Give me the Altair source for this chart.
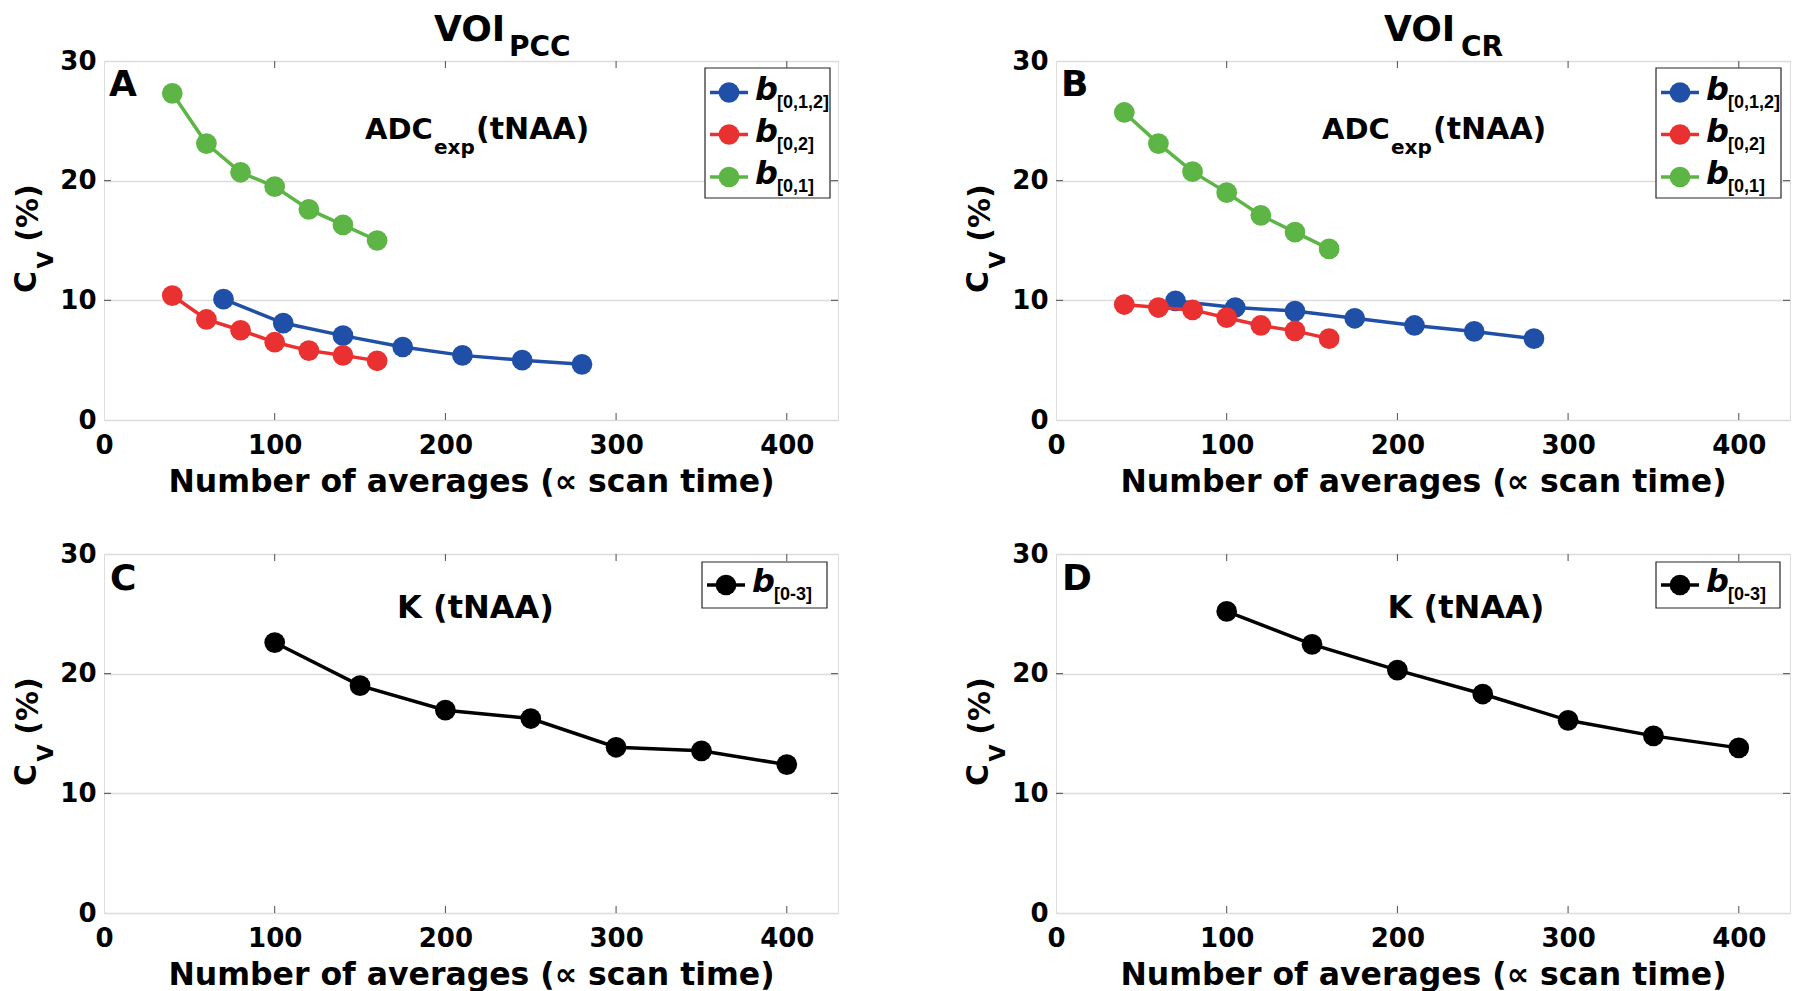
import altair as alt
import pandas as pd

FONT = "DejaVu Sans"
SUBFONT = "Liberation Sans, DejaVu Sans"

# ---------------- data ----------------
# Panel A : VOI_PCC, ADC_exp(tNAA)
a_b012_x = [70, 105, 140, 175, 210, 245, 280]
a_b012_y = [10.1, 8.1, 7.05, 6.1, 5.4, 5.0, 4.65]
a_b02_x = [40, 60, 80, 100, 120, 140, 160]
a_b02_y = [10.4, 8.4, 7.5, 6.5, 5.8, 5.4, 4.95]
a_b01_x = [40, 60, 80, 100, 120, 140, 160]
a_b01_y = [27.3, 23.1, 20.7, 19.5, 17.6, 16.3, 15.0]

# Panel B : VOI_CR, ADC_exp(tNAA)
b_b012_x = [70, 105, 140, 175, 210, 245, 280]
b_b012_y = [9.95, 9.4, 9.1, 8.5, 7.9, 7.4, 6.8]
b_b02_x = [40, 60, 80, 100, 120, 140, 160]
b_b02_y = [9.65, 9.4, 9.2, 8.55, 7.9, 7.45, 6.8]
b_b01_x = [40, 60, 80, 100, 120, 140, 160]
b_b01_y = [25.7, 23.1, 20.75, 19.0, 17.1, 15.7, 14.3]

# Panels C, D : K(tNAA)
c_x = [100, 150, 200, 250, 300, 350, 400]
c_y = [22.6, 19.0, 16.95, 16.25, 13.85, 13.55, 12.4]
d_x = [100, 150, 200, 250, 300, 350, 400]
d_y = [25.2, 22.45, 20.3, 18.3, 16.1, 14.8, 13.8]

x_ticks = [0, 100, 200, 300, 400]
y_ticks = [0, 10, 20, 30]
inner_x_ticks = [100, 200, 300, 400]
inner_y_ticks = [10, 20]

BLUE, RED, GREEN, BLACK = "#1f4fa6", "#e93131", "#5cb544", "#000000"

X_TITLE = "Number of averages (\u221d scan time)"

# ---------------- layout constants ----------------
W, H = 734, 359
ONE = pd.DataFrame({"k": [0]})
PT = 430

XSCALE = alt.Scale(domain=[0, 430], nice=False)
YSCALE = alt.Scale(domain=[0, 30], nice=False)

XAX = alt.Axis(values=x_ticks, grid=False, ticks=False, domain=False,
               labelFont=FONT, labelFontSize=26, labelFontWeight="bold",
               labelColor="black", labelPadding=12, labelFlush=False,
               title=X_TITLE, titleFont=FONT, titleFontSize=31.5,
               titleFontWeight="bold", titleColor="black", titlePadding=8)
YAX = alt.Axis(values=y_ticks, grid=True, gridColor="#dcdcdc", gridWidth=1.5,
               ticks=False, domain=False, labelFont=FONT, labelFontSize=26,
               labelFontWeight="bold", labelColor="black", labelPadding=8,
               labelFlush=False)


def X(field):
    return alt.X(f"{field}:Q", scale=XSCALE, axis=XAX, title=X_TITLE)


def Y(field):
    return alt.Y(f"{field}:Q", scale=YSCALE, axis=YAX, title=None)


def txt(s, x, y, size, italic=False, angle=None, align="left",
        baseline="alphabetic", font=FONT):
    props = dict(text=s, fontSize=size, font=font, fontWeight="bold",
                 align=align, baseline=baseline, color="black")
    if italic:
        props["fontStyle"] = "italic"
    if angle is not None:
        props["angle"] = angle
    return alt.Chart(ONE).mark_text(**props).encode(
        x=alt.value(x), y=alt.value(y))


def frame_ticks():
    xt = pd.DataFrame({"v": inner_x_ticks})
    yt = pd.DataFrame({"v": inner_y_ticks})
    c = "#4d4d4d"
    return [
        alt.Chart(xt).mark_rule(color=c, strokeWidth=1).encode(
            x=X("v"), y=alt.value(H), y2=alt.value(H - 7)),
        alt.Chart(xt).mark_rule(color=c, strokeWidth=1).encode(
            x=X("v"), y=alt.value(0), y2=alt.value(7)),
        alt.Chart(yt).mark_rule(color=c, strokeWidth=1).encode(
            y=Y("v"), x=alt.value(0), x2=alt.value(7)),
        alt.Chart(yt).mark_rule(color=c, strokeWidth=1).encode(
            y=Y("v"), x=alt.value(W - 7), x2=alt.value(W)),
    ]


def series(xs, ys, color):
    df = pd.DataFrame({"n": xs, "cv": ys})
    line = alt.Chart(df).mark_line(color=color, strokeWidth=3.5).encode(
        x=X("n"), y=Y("cv"))
    pts = alt.Chart(df).mark_circle(color=color, size=PT, opacity=1).encode(
        x=X("n"), y=Y("cv"))
    return [line, pts]


def legend(entries, x0, x1, y0, y1):
    out = [alt.Chart(ONE).mark_rect(fill="white", stroke="#262626",
                                    strokeWidth=1.2).encode(
        x=alt.value(x0), x2=alt.value(x1), y=alt.value(y0), y2=alt.value(y1))]
    for color, sub, yc in entries:
        out.append(alt.Chart(ONE).mark_rule(color=color, strokeWidth=3.5).encode(
            x=alt.value(x0 + 5), x2=alt.value(x0 + 43), y=alt.value(yc)))
        out.append(alt.Chart(ONE).mark_circle(color=color, size=PT, opacity=1).encode(
            x=alt.value(x0 + 24), y=alt.value(yc)))
        out.append(txt("b", x0 + 50, yc + 7, 32, italic=True))
        out.append(txt(sub, x0 + 72, yc + 15, 18, font=SUBFONT))
    return out


def ytitle():
    return [
        txt("C", -77, 221, 30, angle=270, align="center", baseline="middle"),
        txt("V", -58, 199, 22, angle=270, align="center", baseline="middle"),
        txt("(%)", -75, 152, 30, angle=270, align="center", baseline="middle"),
    ]


def adc(x0):
    return [txt("ADC", x0, 78, 29), txt("exp", x0 + 69, 93, 20),
            txt("(tNAA)", x0 + 111, 78, 30)]


top_legend = [(BLUE, "[0,1,2]", 31.5), (RED, "[0,2]", 73.5), (GREEN, "[0,1]", 116)]

panel_a = alt.layer(
    *frame_ticks(),
    *series(a_b012_x, a_b012_y, BLUE),
    *series(a_b02_x, a_b02_y, RED),
    *series(a_b01_x, a_b01_y, GREEN),
    txt("A", 5, 35, 36),
    *adc(261),
    *legend(top_legend, 601, 726, 7, 137),
    *ytitle(),
    txt("VOI", 330, -20, 36), txt("PCC", 405, -5, 28),
).properties(width=W, height=H)

panel_b = alt.layer(
    *frame_ticks(),
    *series(b_b012_x, b_b012_y, BLUE),
    *series(b_b02_x, b_b02_y, RED),
    *series(b_b01_x, b_b01_y, GREEN),
    txt("B", 5, 35, 36),
    *adc(266),
    *legend(top_legend, 600, 725, 7, 137),
    *ytitle(),
    txt("VOI", 328, -20, 36), txt("CR", 405, -5, 28),
).properties(width=W, height=H)

panel_c = alt.layer(
    *frame_ticks(),
    *series(c_x, c_y, BLACK),
    txt("C", 6, 36, 36),
    txt("K (tNAA)", 371.5, 63.5, 32, align="center"),
    *legend([(BLACK, "[0-3]", 31)], 598, 723, 8, 54),
    *ytitle(),
).properties(width=W, height=H)

panel_d = alt.layer(
    *frame_ticks(),
    *series(d_x, d_y, BLACK),
    txt("D", 6, 36, 36),
    txt("K (tNAA)", 410, 63.5, 32, align="center"),
    *legend([(BLACK, "[0-3]", 31)], 600, 724, 8, 54),
    *ytitle(),
).properties(width=W, height=H)

chart = alt.vconcat(
    alt.hconcat(panel_a, panel_b, spacing=124),
    alt.hconcat(panel_c, panel_d, spacing=124),
    spacing=42,
).properties(padding={"left": 3, "top": 3, "right": 0, "bottom": 0}).configure_view(
    stroke="#4d4d4d", strokeWidth=1.2
).configure(background="white")

chart.save("out.html", embed_options={"renderer": "svg", "actions": False})
